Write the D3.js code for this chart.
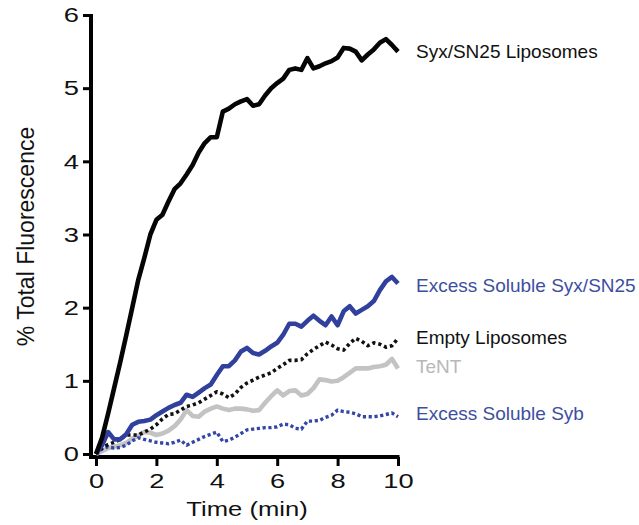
<!DOCTYPE html>
<html>
<head>
<meta charset="utf-8">
<script src="https://cdn.jsdelivr.net/npm/d3@7"></script>
<style>
    body { margin: 0; background: #fff; }
    text { font-family: Arial, "Liberation Sans", Helvetica, sans-serif; }
</style>
</head>
<body>
<svg id="chart" width="639" height="525"></svg>
<script>
// time points (min)
const times = [0, 0.2, 0.4, 0.6, 0.8, 1.0, 1.2, 1.4, 1.6, 1.8, 2.0, 2.2, 2.4, 2.6, 2.8, 3.0, 3.2, 3.4, 3.6, 3.8,
    4.0, 4.2, 4.4, 4.6, 4.8, 5.0, 5.2, 5.4, 5.6, 5.8, 6.0, 6.2, 6.4, 6.6, 6.8, 7.0, 7.2, 7.4, 7.6, 7.8,
    8.0, 8.2, 8.4, 8.6, 8.8, 9.0, 9.2, 9.4, 9.6, 9.8, 10.0];

// % total fluorescence
const syxLiposomes = [0, 0.22, 0.55, 0.9, 1.25, 1.62, 2.0, 2.38, 2.68, 3.0, 3.2, 3.27, 3.45, 3.62, 3.7, 3.82, 3.95, 4.12, 4.25, 4.33,
    4.33, 4.68, 4.72, 4.78, 4.82, 4.85, 4.76, 4.78, 4.9, 5.0, 5.07, 5.13, 5.25, 5.27, 5.25, 5.41, 5.27, 5.3, 5.34, 5.37,
    5.42, 5.55, 5.54, 5.5, 5.38, 5.46, 5.53, 5.62, 5.67, 5.59, 5.5];
const excessSyxSN25 = [0, 0.12, 0.3, 0.2, 0.2, 0.27, 0.4, 0.44, 0.45, 0.47, 0.53, 0.58, 0.63, 0.67, 0.7, 0.81, 0.78, 0.84, 0.9, 0.95,
    1.08, 1.2, 1.2, 1.28, 1.4, 1.45, 1.38, 1.36, 1.41, 1.47, 1.52, 1.63, 1.78, 1.78, 1.74, 1.82, 1.89, 1.82, 1.76, 1.88,
    1.76, 1.95, 2.02, 1.92, 1.97, 2.02, 2.09, 2.24, 2.36, 2.42, 2.33];
const emptyLiposomes = [0, 0.08, 0.13, 0.16, 0.2, 0.26, 0.26, 0.26, 0.3, 0.34, 0.4, 0.48, 0.54, 0.55, 0.6, 0.65, 0.67, 0.7, 0.75, 0.8,
    0.85, 0.82, 0.77, 0.82, 0.91, 0.97, 1.01, 1.05, 1.08, 1.11, 1.17, 1.22, 1.28, 1.28, 1.29, 1.37, 1.43, 1.48, 1.53, 1.49,
    1.44, 1.42, 1.51, 1.58, 1.54, 1.48, 1.52, 1.5, 1.46, 1.48, 1.58];
const tent = [0, 0.04, 0.08, 0.1, 0.12, 0.15, 0.21, 0.25, 0.3, 0.29, 0.26, 0.28, 0.32, 0.38, 0.47, 0.6, 0.52, 0.51, 0.58, 0.62,
    0.65, 0.62, 0.6, 0.62, 0.62, 0.61, 0.59, 0.6, 0.7, 0.79, 0.87, 0.8, 0.86, 0.87, 0.8, 0.82, 0.9, 1.02, 1.01, 0.99,
    1.0, 1.05, 1.11, 1.17, 1.17, 1.17, 1.19, 1.2, 1.22, 1.3, 1.17];
const excessSyb = [0, 0.07, 0.1, 0.08, 0.09, 0.12, 0.18, 0.22, 0.2, 0.18, 0.16, 0.15, 0.14, 0.16, 0.19, 0.12, 0.16, 0.2, 0.24, 0.27,
    0.3, 0.17, 0.19, 0.23, 0.28, 0.33, 0.34, 0.35, 0.36, 0.36, 0.37, 0.41, 0.4, 0.35, 0.34, 0.45, 0.45, 0.46, 0.5, 0.53,
    0.6, 0.58, 0.57, 0.55, 0.51, 0.51, 0.51, 0.52, 0.54, 0.56, 0.51];

const seriesNames = ["Syx/SN25 Liposomes", "Excess Soluble Syx/SN25", "Empty Liposomes", "TeNT", "Excess Soluble Syb"];
// where each end label sits, in data units
const labelValues = [5.5, 2.3, 1.6, 1.2, 0.55];
const xTicks = [0, 2, 4, 6, 8, 10];
const yTicks = [0, 1, 2, 3, 4, 5, 6];

const seriesValues = [syxLiposomes, excessSyxSN25, emptyLiposomes, tent, excessSyb];
const styles = [
    { stroke: "#050505", width: 4.6, dash: null, text: "#111" },
    { stroke: "#30409c", width: 4.6, dash: null, text: "#3d4fa0" },
    { stroke: "#111", width: 3.6, dash: "3.2,3", text: "#111" },
    { stroke: "#c3c3c3", width: 4.6, dash: null, text: "#b8b8b8" },
    { stroke: "#3447a8", width: 3.4, dash: "3.2,2.6", text: "#3d4fa0" }
];

const svg = d3.select("#chart");
const x = d3.scaleLinear().domain([0, 10]).range([96, 398]);
const y = d3.scaleLinear().domain([0, 6]).range([454, 15]);

// Prism-style offset axes
const axisX = 91, axisY = 457;
const tickStretch = 1.3;

const yAxisG = svg.append("g").attr("transform", `translate(${axisX},0)`)
    .call(d3.axisLeft(y).tickValues(yTicks).tickSize(8).tickSizeOuter(0).tickFormat(d3.format("d")));
yAxisG.select(".domain").attr("stroke-width", 4).attr("d", `M0,${y(6) - 1}V${axisY + 1.5}`);
yAxisG.selectAll(".tick line").attr("stroke-width", 3);
yAxisG.selectAll(".tick text")
    .attr("font-size", 21)
    .attr("fill", "#111")
    .attr("x", -12 / tickStretch)
    .attr("transform", `scale(${tickStretch},1)`);

const xAxisG = svg.append("g").attr("transform", `translate(0,${axisY})`)
    .call(d3.axisBottom(x).tickValues(xTicks).tickSize(9).tickSizeOuter(0).tickFormat(d3.format("d")));
xAxisG.select(".domain").attr("stroke-width", 4).attr("d", `M${axisX - 2},0H${x(10) + 1.5}`);
xAxisG.selectAll(".tick line").attr("stroke-width", 3);
xAxisG.selectAll(".tick text")
    .attr("font-size", 21)
    .attr("fill", "#111")
    .attr("y", 16)
    .attr("transform", `scale(${tickStretch},1)`);

// axis titles
svg.append("text")
    .attr("transform", `translate(${(x(0) + x(10)) / 2},516) scale(1.22,1)`)
    .attr("text-anchor", "middle")
    .attr("font-size", 21)
    .attr("fill", "#111")
    .text("Time (min)");

svg.append("text")
    .attr("transform", `translate(34,${y(3) + 2}) rotate(-90)`)
    .attr("text-anchor", "middle")
    .attr("font-size", 23)
    .attr("fill", "#111")
    .text("% Total Fluorescence");

// lines, drawn back to front
const line = d3.line().x((d, i) => x(times[i])).y(d => y(d));
const drawOrder = [3, 4, 2, 1, 0];
drawOrder.forEach(k => {
    const st = styles[k];
    svg.append("path")
        .datum(seriesValues[k])
        .attr("fill", "none")
        .attr("stroke", st.stroke)
        .attr("stroke-width", st.width)
        .attr("stroke-linejoin", "round")
        .attr("stroke-dasharray", st.dash)
        .attr("d", line);
});

// end labels
seriesNames.forEach((name, k) => {
    svg.append("text")
        .attr("x", 416)
        .attr("y", y(labelValues[k]))
        .attr("dy", "0.35em")
        .attr("font-size", 19)
        .attr("fill", styles[k].text)
        .text(name);
});
</script>
</body>
</html>
